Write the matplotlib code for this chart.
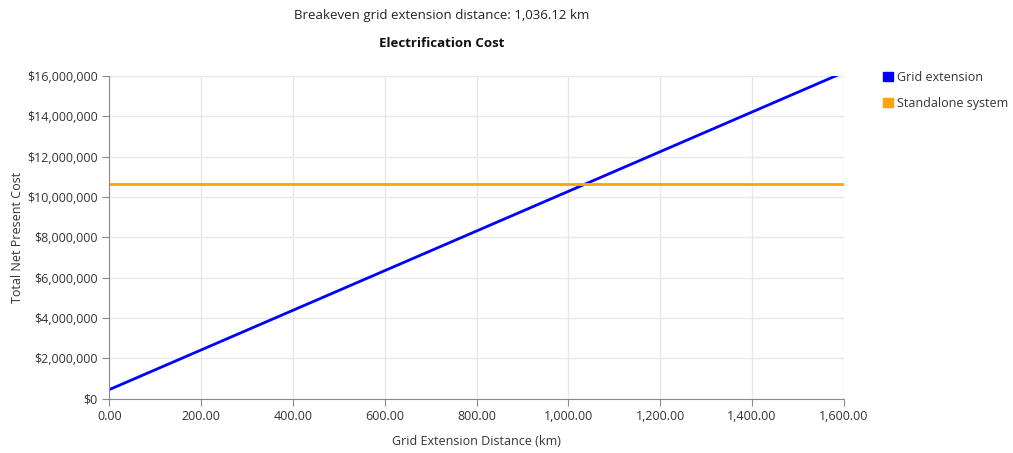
import matplotlib
matplotlib.use("Agg")
import matplotlib.pyplot as plt
from matplotlib.ticker import FuncFormatter, MultipleLocator
from matplotlib.patches import Patch

# data
distance_km = [0, 1600]
grid_cost = [450000, 16185000]
standalone_cost = [10640000, 10640000]
breakeven_km = 1036.12

plt.rcParams['font.family'] = ['Open Sans', 'DejaVu Sans']
text_col = '#333333'
axis_col = '#8a8a8a'

fig = plt.figure(figsize=(10.13, 4.53), dpi=100)
ax = fig.add_axes([0.108, 0.12, 0.725, 0.712])

ax.plot(distance_km, grid_cost, color='#0000ff', lw=2, label='Grid extension')
ax.plot(distance_km, standalone_cost, color='#ffa500', lw=2, label='Standalone system')

ax.set_xlim(0, 1600)
ax.set_ylim(0, 16000000)
ax.xaxis.set_major_locator(MultipleLocator(200))
ax.yaxis.set_major_locator(MultipleLocator(2000000))
ax.xaxis.set_major_formatter(FuncFormatter(lambda v, p: f"{v:,.2f}"))
ax.yaxis.set_major_formatter(FuncFormatter(lambda v, p: f"${v:,.0f}"))

ax.grid(True, color='#e8e8e8', lw=1)
ax.set_axisbelow(True)
for s in ['top', 'right']:
    ax.spines[s].set_visible(False)
for s in ['left', 'bottom']:
    ax.spines[s].set_color(axis_col)
ax.tick_params(colors=axis_col, labelcolor=text_col, labelsize=9, length=5, direction='out')

ax.set_xlabel('Grid Extension Distance (km)', color=text_col, fontsize=9, labelpad=8)
ax.set_ylabel('Total Net Present Cost', color=text_col, fontsize=9, labelpad=2)

fig.text(0.436, 0.965, f'Breakeven grid extension distance: {breakeven_km:,.2f} km',
         ha='center', va='center', fontsize=9.5, color='#222222')
fig.text(0.436, 0.903, 'Electrification Cost', ha='center', va='center',
         fontsize=9.5, fontweight='bold', color='#111111')

handles = [Patch(color='#0000ff', label='Grid extension'),
           Patch(color='#ffa500', label='Standalone system')]
fig.legend(handles=handles, loc='upper left', bbox_to_anchor=(0.872, 0.843),
           frameon=False, fontsize=9, handlelength=0.75, handleheight=0.75,
           handletextpad=0.35, labelspacing=1.0, borderpad=0, borderaxespad=0,
           labelcolor=text_col)

fig.savefig('out.png', dpi=100)
